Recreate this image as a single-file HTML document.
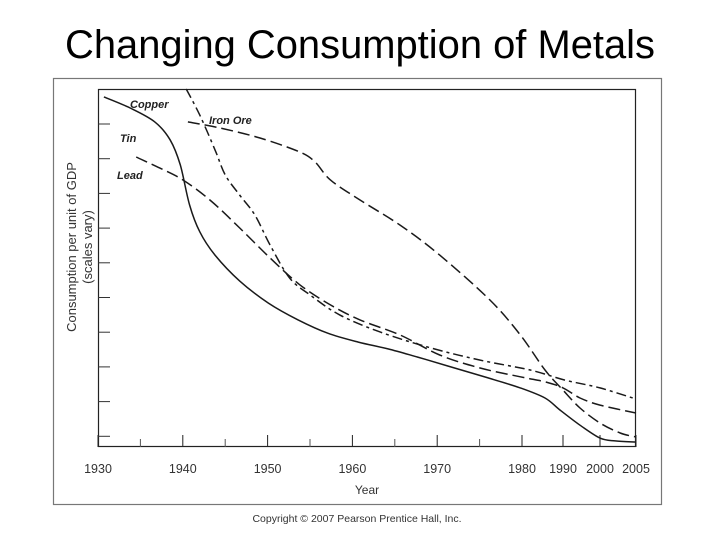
<!DOCTYPE html>
<html><head><meta charset="utf-8"><style>
body{margin:0;background:#fff;width:720px;height:540px;overflow:hidden;font-family:"Liberation Sans",sans-serif}
</style></head><body>
<svg width="720" height="540">
<text x="360" y="58" text-anchor="middle" font-size="40" textLength="590" lengthAdjust="spacingAndGlyphs">Changing Consumption of Metals</text>
<rect x="53.5" y="78.5" width="608" height="426" fill="none" stroke="#777" stroke-width="1.2"/>
<rect x="98.5" y="89.5" width="537" height="357" fill="none" stroke="#222" stroke-width="1.2"/>
<g id="ticks"></g>
<g id="series"></g>
<text transform="translate(76,247) rotate(-90)" text-anchor="middle" font-size="13" fill="#333">Consumption per unit of GDP</text>
<text transform="translate(92,247) rotate(-90)" text-anchor="middle" font-size="13" fill="#333">(scales vary)</text>
<text x="367" y="494" text-anchor="middle" font-size="12" fill="#333">Year</text>
<g font-size="11" font-style="italic" font-weight="bold" fill="#222">
<text x="130" y="108">Copper</text>
<text x="209" y="124">Iron Ore</text>
<text x="120" y="142">Tin</text>
<text x="117" y="179">Lead</text>
</g>
<text x="357" y="522" text-anchor="middle" font-size="10.5" fill="#333">Copyright © 2007 Pearson Prentice Hall, Inc.</text>
</svg>
<script>
const xTickYears=[1930,1940,1950,1960,1970,1980,1990,2000,2005];
const xMinorYears=[1935,1945,1955,1965,1975];
const copperYears=[1930.7,1933.8,1936.7,1938.5,1939.7,1940.8,1942,1943.8,1946.7,1950.1,1953.6,1957.1,1960.7,1964.2,1967.7,1971.3,1976,1979.8,1985.6,1989.3,1994.6,2000,2002.1,2005];
const copperValues=[97.8,94.7,90.8,85.8,78.8,67.6,60.1,53.6,46.4,40.2,35.5,31.8,29.3,27.4,25.1,22.6,19.3,16.5,13.7,10.3,6.1,2.5,1.7,1.4];
const tinYears=[1934.5,1937.3,1940,1943.2,1946.7,1950.3,1953.8,1957.4,1960.9,1965.6,1970.3,1975,1979.8,1985.6,1990,1994.6,2000,2005];
const tinValues=[81,77.9,74.6,69,61.2,52.8,45.3,39.7,35.5,31.3,25.7,22.1,19.6,18.2,16.5,13.7,11.7,9.5];
const leadYears=[1940.4,1942,1943.8,1945,1946.7,1948.5,1950.3,1952.6,1955,1958.5,1963.3,1969.2,1975,1982,1990.5,2000,2005];
const leadValues=[100,92.7,83,76,70.4,64.8,56.4,47.2,42.5,36.9,32.1,27.7,24.3,21.5,18.7,16.5,13.4];
const ironYears=[1940.6,1944.4,1949.1,1953.8,1955.6,1957.4,1960.9,1965.6,1970.3,1976.2,1979.8,1985.6,1990,1994.6,2000,2002.8,2005];
const ironValues=[90.8,89.1,86.3,82.4,79.6,74.6,69,62,53.6,41.1,31.3,21.5,15.9,10.9,6.7,3.9,2.8];

const NS='http://www.w3.org/2000/svg';
const bx=[1930,1980,1990,2000,2005], px=[98,522,563,600,636];
function xScale(y){for(let i=0;i<bx.length-1;i++){if(y<=bx[i+1]||i==bx.length-2)return px[i]+(y-bx[i])/(bx[i+1]-bx[i])*(px[i+1]-px[i]);}}
function yScale(v){return 447-v*3.58;}
const tg=document.getElementById('ticks');
xTickYears.forEach(y=>{
 const l=document.createElementNS(NS,'line');const x=xScale(y);
 l.setAttribute('x1',x);l.setAttribute('x2',x);l.setAttribute('y1',447);l.setAttribute('y2',435);l.setAttribute('stroke','#222');
 
 
 tg.appendChild(l);
 const t=document.createElementNS(NS,'text');t.setAttribute('x',x);t.setAttribute('y',473);t.setAttribute('text-anchor','middle');t.setAttribute('font-size','12.5');t.setAttribute('fill','#333');t.textContent=y;
 
 
 tg.appendChild(t);
});
xMinorYears.forEach(y=>{
 const l=document.createElementNS(NS,'line');const x=xScale(y);
 l.setAttribute('x1',x);l.setAttribute('x2',x);l.setAttribute('y1',447);l.setAttribute('y2',439);l.setAttribute('stroke','#555');
 
 
 tg.appendChild(l);
});
for(let i=0;i<10;i++){
 const y=124+i*34.7;
 const l=document.createElementNS(NS,'line');
 l.setAttribute('x1',98);l.setAttribute('x2',110);l.setAttribute('y1',y);l.setAttribute('y2',y);l.setAttribute('stroke','#333');
 
 
 tg.appendChild(l);
}
const sg=document.getElementById('series');
function draw(ys,vs,dash,name){
 const pts=ys.map((y,i)=>[xScale(y),yScale(vs[i])]);
 let d='M'+pts[0][0].toFixed(1)+','+pts[0][1].toFixed(1);
 for(let i=0;i<pts.length-1;i++){
  const p0=pts[Math.max(0,i-1)],p1=pts[i],p2=pts[i+1],p3=pts[Math.min(pts.length-1,i+2)];
  const c1=[p1[0]+(p2[0]-p0[0])/6,p1[1]+(p2[1]-p0[1])/6],c2=[p2[0]-(p3[0]-p1[0])/6,p2[1]-(p3[1]-p1[1])/6];
  d+=' C'+c1.map(n=>n.toFixed(1)).join(',')+' '+c2.map(n=>n.toFixed(1)).join(',')+' '+p2.map(n=>n.toFixed(1)).join(',');
 }
 const p=document.createElementNS(NS,'path');
 p.setAttribute('d',d);
 p.setAttribute('fill','none');p.setAttribute('stroke','#1a1a1a');p.setAttribute('stroke-width','1.5');
 if(dash)p.setAttribute('stroke-dasharray',dash);
 
 
 sg.appendChild(p);
}
draw(copperYears,copperValues,null,'copper-line');
draw(tinYears,tinValues,'12,5','tin-line');
draw(leadYears,leadValues,'10,4,3,4','lead-line');
draw(ironYears,ironValues,'12,5','iron-ore-line');
</script>
</body></html>
